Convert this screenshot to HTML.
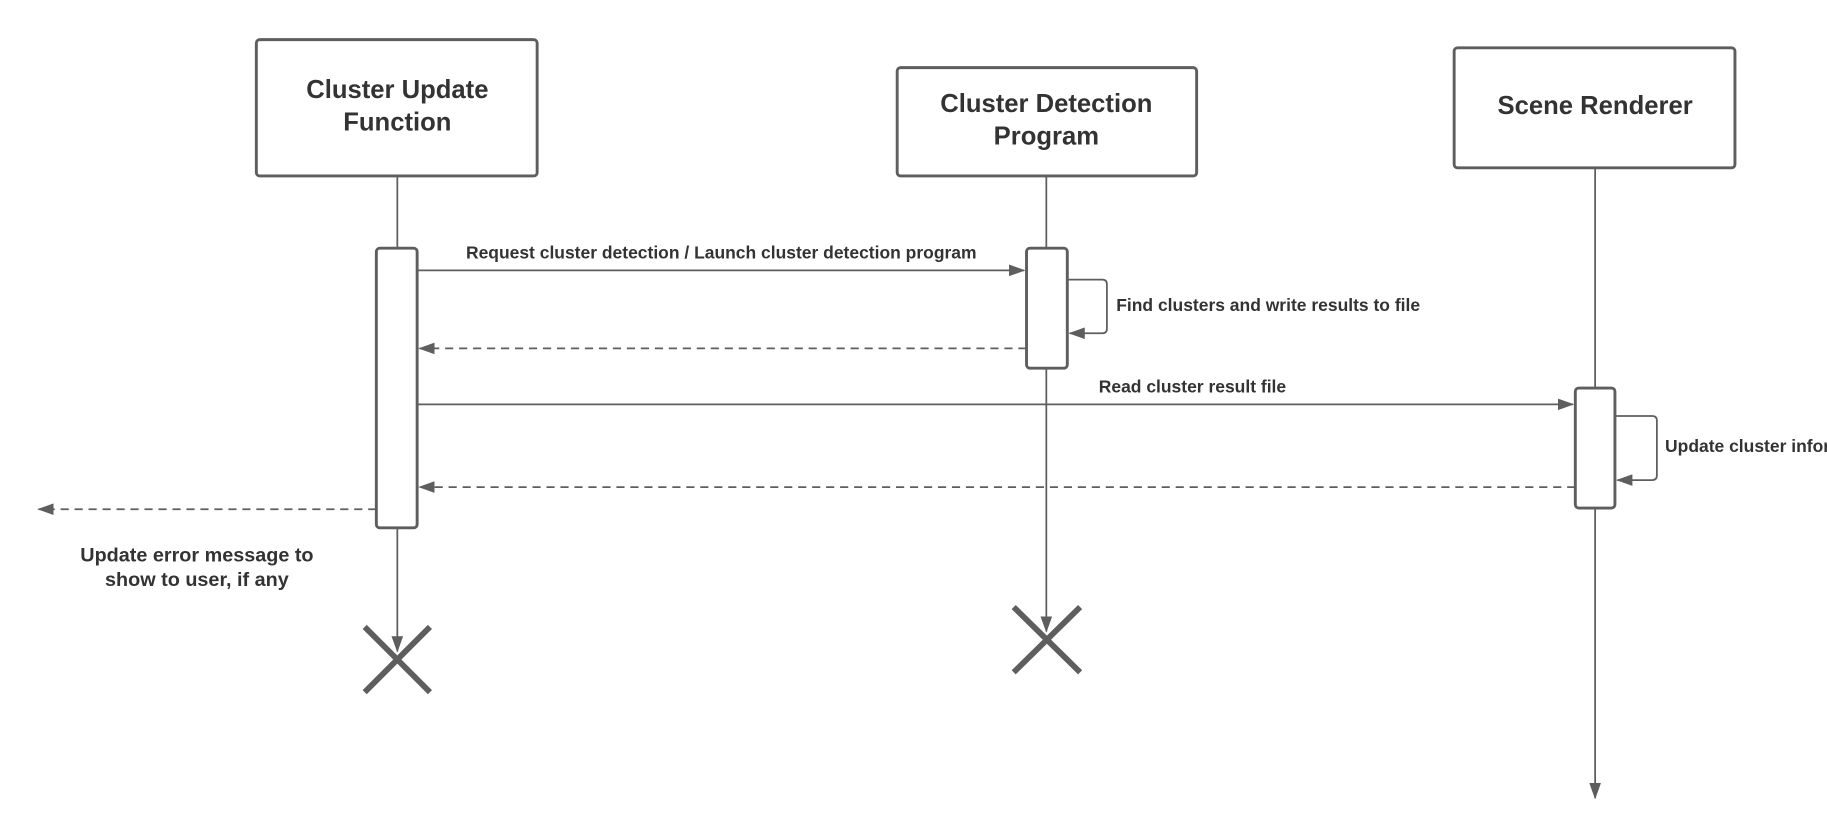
<!DOCTYPE html>
<html><head><meta charset="utf-8"><style>
html,body{margin:0;padding:0;background:#fff;width:1827px;height:837px;overflow:hidden}
svg{display:block}
text{font-family:"Liberation Sans",Arial,sans-serif;font-weight:bold;fill:#333}
</style></head><body>
<svg width="1827" height="837" viewBox="0 0 1568 718.3" xmlns="http://www.w3.org/2000/svg">
<defs>
<marker id="a" markerWidth="14" markerHeight="10" refX="13" refY="5" orient="auto" markerUnits="userSpaceOnUse">
<path d="M0,0 L14,5 L0,10 Z" fill="#5e5e5e"/></marker>
</defs>
<g fill="#fff" stroke="#5e5e5e" stroke-width="2.5">
<rect x="220" y="34" width="241" height="117" rx="3"/>
<rect x="770" y="58" width="257" height="93" rx="3"/>
<rect x="1248" y="41" width="241" height="103" rx="3"/>
</g>
<g stroke="#5e5e5e" stroke-width="1.5" fill="none">
<line x1="341" y1="151" x2="341" y2="213"/>
<line x1="341" y1="453" x2="341" y2="559" marker-end="url(#a)"/>
<line x1="898" y1="151" x2="898" y2="213"/>
<line x1="898" y1="316" x2="898" y2="542" marker-end="url(#a)"/>
<line x1="1369" y1="144" x2="1369" y2="333"/>
<line x1="1369" y1="436" x2="1369" y2="685" marker-end="url(#a)"/>
<line x1="358" y1="232" x2="879" y2="232" marker-end="url(#a)"/>
<path d="M916,240 H946 Q950,240 950,244 V282 Q950,286 946,286 H918" marker-end="url(#a)"/>
<line x1="881" y1="299" x2="360" y2="299" stroke-dasharray="7,5" marker-end="url(#a)"/>
<line x1="358" y1="347" x2="1350" y2="347" marker-end="url(#a)"/>
<path d="M1386,357 H1418 Q1422,357 1422,361 V408 Q1422,412 1418,412 H1388" marker-end="url(#a)"/>
<line x1="1352" y1="418" x2="360" y2="418" stroke-dasharray="7,5" marker-end="url(#a)"/>
<line x1="323" y1="437" x2="33" y2="437" stroke-dasharray="7,5" marker-end="url(#a)"/>
</g>
<g fill="#fff" stroke="#5e5e5e" stroke-width="2.5">
<rect x="323" y="213" width="35" height="240" rx="3"/>
<rect x="881" y="213" width="35" height="103" rx="3"/>
<rect x="1352" y="333" width="34" height="103" rx="3"/>
</g>
<g stroke="#5e5e5e" stroke-width="5">
<line x1="313" y1="538" x2="369" y2="594"/><line x1="369" y1="538" x2="313" y2="594"/>
<line x1="870" y1="521" x2="927" y2="577"/><line x1="927" y1="521" x2="870" y2="577"/>
</g>
<g font-size="22" text-anchor="middle">
<text x="341" y="84">Cluster Update</text>
<text x="341" y="112">Function</text>
<text x="898" y="96">Cluster Detection</text>
<text x="898" y="124">Program</text>
<text x="1369" y="98">Scene Renderer</text>
</g>
<g font-size="15">
<text x="619" y="222" text-anchor="middle">Request cluster detection / Launch cluster detection program</text>
<text x="958" y="267">Find clusters and write results to file</text>
<text x="943" y="337">Read cluster result file</text>
<text x="1429" y="388">Update cluster information</text>
</g>
<g font-size="17" text-anchor="middle">
<text x="169" y="482">Update error message to</text>
<text x="169" y="503">show to user, if any</text>
</g>
</svg>
</body></html>
